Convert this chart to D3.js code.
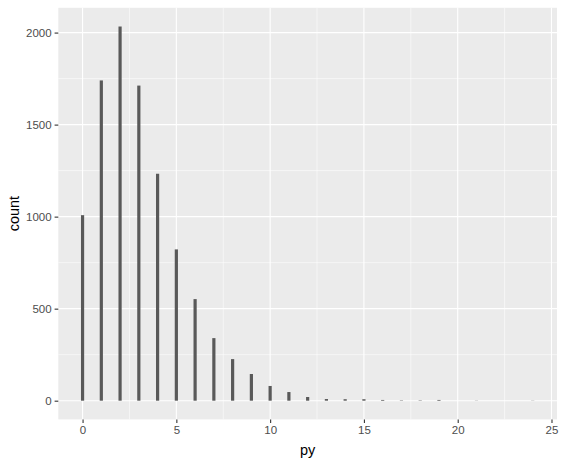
<!DOCTYPE html>
<html>
<head>
<meta charset="utf-8">
<script src="https://cdn.jsdelivr.net/npm/d3@7"></script>
<style>
    body { margin: 0; background: #fff; }
    svg { display: block; }
</style>
</head>
<body>
<svg id="chart"></svg>
<script>
(function () {
    'use strict';

    // values of py and how often each one occurs
    const pyValues = [0, 1, 2, 3, 4, 5, 6, 7, 8, 9, 10, 11, 12, 13, 14, 15, 16, 17, 18, 19, 21, 24];
    const counts = [1008, 1740, 2033, 1712, 1233, 822, 552, 340, 226, 145, 80, 47, 20, 9, 8, 8, 4, 2, 2, 4, 1, 1];
    const xTickValues = [0, 5, 10, 15, 20, 25];
    const yTickValues = [0, 500, 1000, 1500, 2000];

    const width = 564;
    const height = 463;
    const margin = {
        'top': 7.8,
        'right': 7,
        'bottom': 43.6,
        'left': 58.3,
    };
    const binWidth = 0.17;

    const data = pyValues.map((py, i) => {
        return { py: py, count: counts[i] };
    });

    const svg = d3.select('#chart')
        .attr('width', width)
        .attr('height', height);

    const innerW = width - margin.left - margin.right;
    const innerH = height - margin.top - margin.bottom;

    // ggplot style 5% expansion on both axes
    const xLo = d3.min(data, d => d.py) - binWidth / 2;
    const xHi = d3.max(data, d => d.py) + binWidth / 2;
    const xPad = (xHi - xLo) * 0.05;
    const yMax = d3.max(data, d => d.count);
    const yPad = yMax * 0.05;

    const xScale = d3.scaleLinear()
        .domain([xLo - xPad, xHi + xPad])
        .range([0, innerW]);
    const yScale = d3.scaleLinear()
        .domain([-yPad, yMax + yPad])
        .range([innerH, 0]);

    const chart = svg.append('g')
        .attr('transform', `translate(${margin.left}, ${margin.top})`);

    chart.append('rect')
        .attr('width', innerW)
        .attr('height', innerH)
        .attr('fill', '#EBEBEB');

    // minor grid lines halfway between the major ones
    const xMinor = d3.pairs(xTickValues).map(p => (p[0] + p[1]) / 2);
    const yMinor = d3.pairs(yTickValues).map(p => (p[0] + p[1]) / 2);

    chart.append('g').selectAll('line')
        .data(yMinor)
        .join('line')
            .attr('x1', 0).attr('x2', innerW)
            .attr('y1', d => yScale(d)).attr('y2', d => yScale(d))
            .attr('stroke', '#fff').attr('stroke-width', 0.55);
    chart.append('g').selectAll('line')
        .data(xMinor)
        .join('line')
            .attr('y1', 0).attr('y2', innerH)
            .attr('x1', d => xScale(d)).attr('x2', d => xScale(d))
            .attr('stroke', '#fff').attr('stroke-width', 0.55);
    chart.append('g').selectAll('line')
        .data(yTickValues)
        .join('line')
            .attr('x1', 0).attr('x2', innerW)
            .attr('y1', d => yScale(d)).attr('y2', d => yScale(d))
            .attr('stroke', '#fff').attr('stroke-width', 1.1);
    chart.append('g').selectAll('line')
        .data(xTickValues)
        .join('line')
            .attr('y1', 0).attr('y2', innerH)
            .attr('x1', d => xScale(d)).attr('x2', d => xScale(d))
            .attr('stroke', '#fff').attr('stroke-width', 1.1);

    chart.append('g').selectAll('rect')
        .data(data)
        .join('rect')
            .attr('x', d => xScale(d.py - binWidth / 2))
            .attr('width', d => xScale(d.py + binWidth / 2) - xScale(d.py - binWidth / 2))
            .attr('y', d => yScale(d.count))
            .attr('height', d => yScale(0) - yScale(d.count))
            .attr('fill', '#595959');

    const xAxis = d3.axisBottom(xScale)
        .tickValues(xTickValues)
        .tickSize(3.7)
        .tickPadding(3)
        .tickFormat(d3.format('d'));
    const yAxis = d3.axisLeft(yScale)
        .tickValues(yTickValues)
        .tickSize(3.7)
        .tickPadding(3)
        .tickFormat(d3.format('d'));

    const gx = chart.append('g')
        .attr('transform', `translate(0, ${innerH})`)
        .call(xAxis);
    const gy = chart.append('g')
        .call(yAxis);

    [gx, gy].forEach(g => {
        g.select('.domain').remove();
        g.selectAll('.tick line').attr('stroke', '#333333').attr('stroke-width', 1.1);
        g.selectAll('.tick text')
            .attr('fill', '#4D4D4D')
            .style('font-family', '"Liberation Sans", Arial, sans-serif')
            .style('font-size', '11.5px');
    });

    svg.append('text')
        .attr('x', margin.left + innerW / 2)
        .attr('y', 455)
        .attr('text-anchor', 'middle')
        .style('font-family', '"Liberation Sans", Arial, sans-serif')
        .style('font-size', '14.5px')
        .attr('fill', '#000')
        .text('py');

    svg.append('text')
        .attr('transform', `translate(19, ${margin.top + innerH / 2}) rotate(-90)`)
        .attr('text-anchor', 'middle')
        .style('font-family', '"Liberation Sans", Arial, sans-serif')
        .style('font-size', '14.5px')
        .attr('fill', '#000')
        .text('count');
})();
</script>
</body>
</html>
